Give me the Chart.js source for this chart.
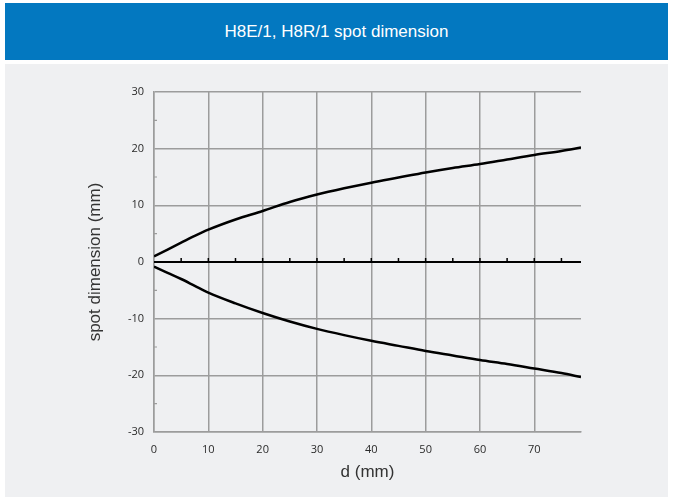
<!DOCTYPE html>
<html>
<head>
<meta charset="utf-8">
<script src="https://cdn.jsdelivr.net/npm/chart.js@4"></script>
<style>
  html, body { margin: 0; padding: 0; background: #ffffff; width: 674px; height: 501px; overflow: hidden; }
  #header { position: absolute; left: 5px; top: 3px; width: 663px; height: 57px; background: #0378c0;
            color: #ffffff; font-family: "Liberation Sans", Arial, sans-serif; font-size: 17px;
            display: flex; align-items: center; justify-content: center; }
  #panel { position: absolute; left: 5px; top: 64px; width: 663px; height: 433px; background: #eff0f2; }
  #wrap { position: absolute; left: 0; top: 0; width: 674px; height: 501px; }
</style>
</head>
<body>
<div id="header">H8E/1, H8R/1 spot dimension</div>
<div id="panel"></div>
<div id="wrap"><canvas id="c" width="674" height="501"></canvas></div>
<script>
const chartTitle = "H8E/1, H8R/1 spot dimension";
const xTitle = "d (mm)";
const yTitle = "spot dimension (mm)";
const dValues     = [0, 2.5, 5, 7.5, 10, 15, 20, 25, 30, 35, 40, 45, 50, 55, 60, 65, 70, 75, 78.6];
const upperValues = [1.0, 2.2, 3.4, 4.6, 5.7, 7.5, 9.0, 10.6, 11.9, 13.0, 14.0, 14.9, 15.8, 16.6, 17.3, 18.1, 18.9, 19.6, 20.2];
const lowerValues = [-0.8, -1.9, -3.0, -4.2, -5.4, -7.3, -9.0, -10.5, -11.8, -12.9, -13.9, -14.8, -15.7, -16.5, -17.3, -18.0, -18.8, -19.6, -20.3];
const xTicks = [0, 10, 20, 30, 40, 50, 60, 70];
const yTicks = [-30, -20, -10, 0, 10, 20, 30];
const xMinorTicks = [5, 10, 15, 20, 25, 30, 35, 40, 45, 50, 55, 60, 65, 70, 75];
const yMinorTicks = [-25, -15, -5, 5, 15, 25];

const gridColor = '#9c9c9c';

const zeroLinePlugin = {
  id: 'zeroLine',
  afterDatasetsDraw(chart) {
    const ctx = chart.ctx;
    const xs = chart.scales.x, ys = chart.scales.y;
    const y0 = ys.getPixelForValue(0);
    ctx.save();
    ctx.strokeStyle = '#000000';
    ctx.lineWidth = 2;
    ctx.beginPath();
    ctx.moveTo(xs.left, y0);
    ctx.lineTo(xs.right, y0);
    ctx.stroke();
    ctx.lineWidth = 1.5;
    ctx.beginPath();
    xMinorTicks.forEach(v => {
      const px = xs.getPixelForValue(v);
      ctx.moveTo(px, y0);
      ctx.lineTo(px, y0 - 4);
    });
    ctx.stroke();
    ctx.strokeStyle = gridColor;
    ctx.lineWidth = 1.2;
    ctx.beginPath();
    yMinorTicks.forEach(v => {
      const py = ys.getPixelForValue(v);
      ctx.moveTo(xs.left, py);
      ctx.lineTo(xs.left + 3, py);
    });
    ctx.stroke();
    ctx.restore();
  }
};

const upperData = dValues.map((d, i) => ({ x: d, y: upperValues[i] }));
const lowerData = dValues.map((d, i) => ({ x: d, y: lowerValues[i] }));

new Chart(document.getElementById('c'), {
  type: 'line',
  data: {
    datasets: [
      { label: 'upper', data: upperData, borderColor: '#000000', borderWidth: 2.5, pointRadius: 0, cubicInterpolationMode: 'monotone', fill: false },
      { label: 'lower', data: lowerData, borderColor: '#000000', borderWidth: 2.5, pointRadius: 0, cubicInterpolationMode: 'monotone', fill: false }
    ]
  },
  options: {
    responsive: false,
    animation: false,
    devicePixelRatio: 1,
    layout: { padding: { left: 81, top: 92, right: 93, bottom: 14 } },
    plugins: { legend: { display: false }, title: { display: false }, tooltip: { enabled: false } },
    scales: {
      x: {
        type: 'linear', min: 0, max: 78.6,
        afterBuildTicks(axis) { axis.ticks = xTicks.map(v => ({ value: v })); },
        afterFit(axis) { axis.height = 55; },
        grid: { color: gridColor, lineWidth: 1.5, drawTicks: false },
        border: { display: true, color: gridColor, width: 1.5 },
        ticks: { padding: 11, color: '#2a2a2a', font: { family: 'Open Sans', size: 11 }, maxRotation: 0 },
        title: { display: true, text: xTitle, color: '#333333', font: { family: 'Liberation Sans', size: 17 }, padding: { top: 4, bottom: 4 } }
      },
      y: {
        type: 'linear', min: -30, max: 30,
        afterBuildTicks(axis) { axis.ticks = yTicks.map(v => ({ value: v })); },
        afterFit(axis) { axis.width = 73; },
        grid: { color: gridColor, lineWidth: 1.5, drawTicks: false },
        border: { display: true, color: gridColor, width: 1.5 },
        ticks: { padding: 10, color: '#2a2a2a', font: { family: 'Open Sans', size: 11 } },
        title: { display: true, text: yTitle, color: '#333333', font: { family: 'Liberation Sans', size: 17 }, padding: { top: 4, bottom: 4 } }
      }
    }
  },
  plugins: [zeroLinePlugin]
});
</script>
</body>
</html>
